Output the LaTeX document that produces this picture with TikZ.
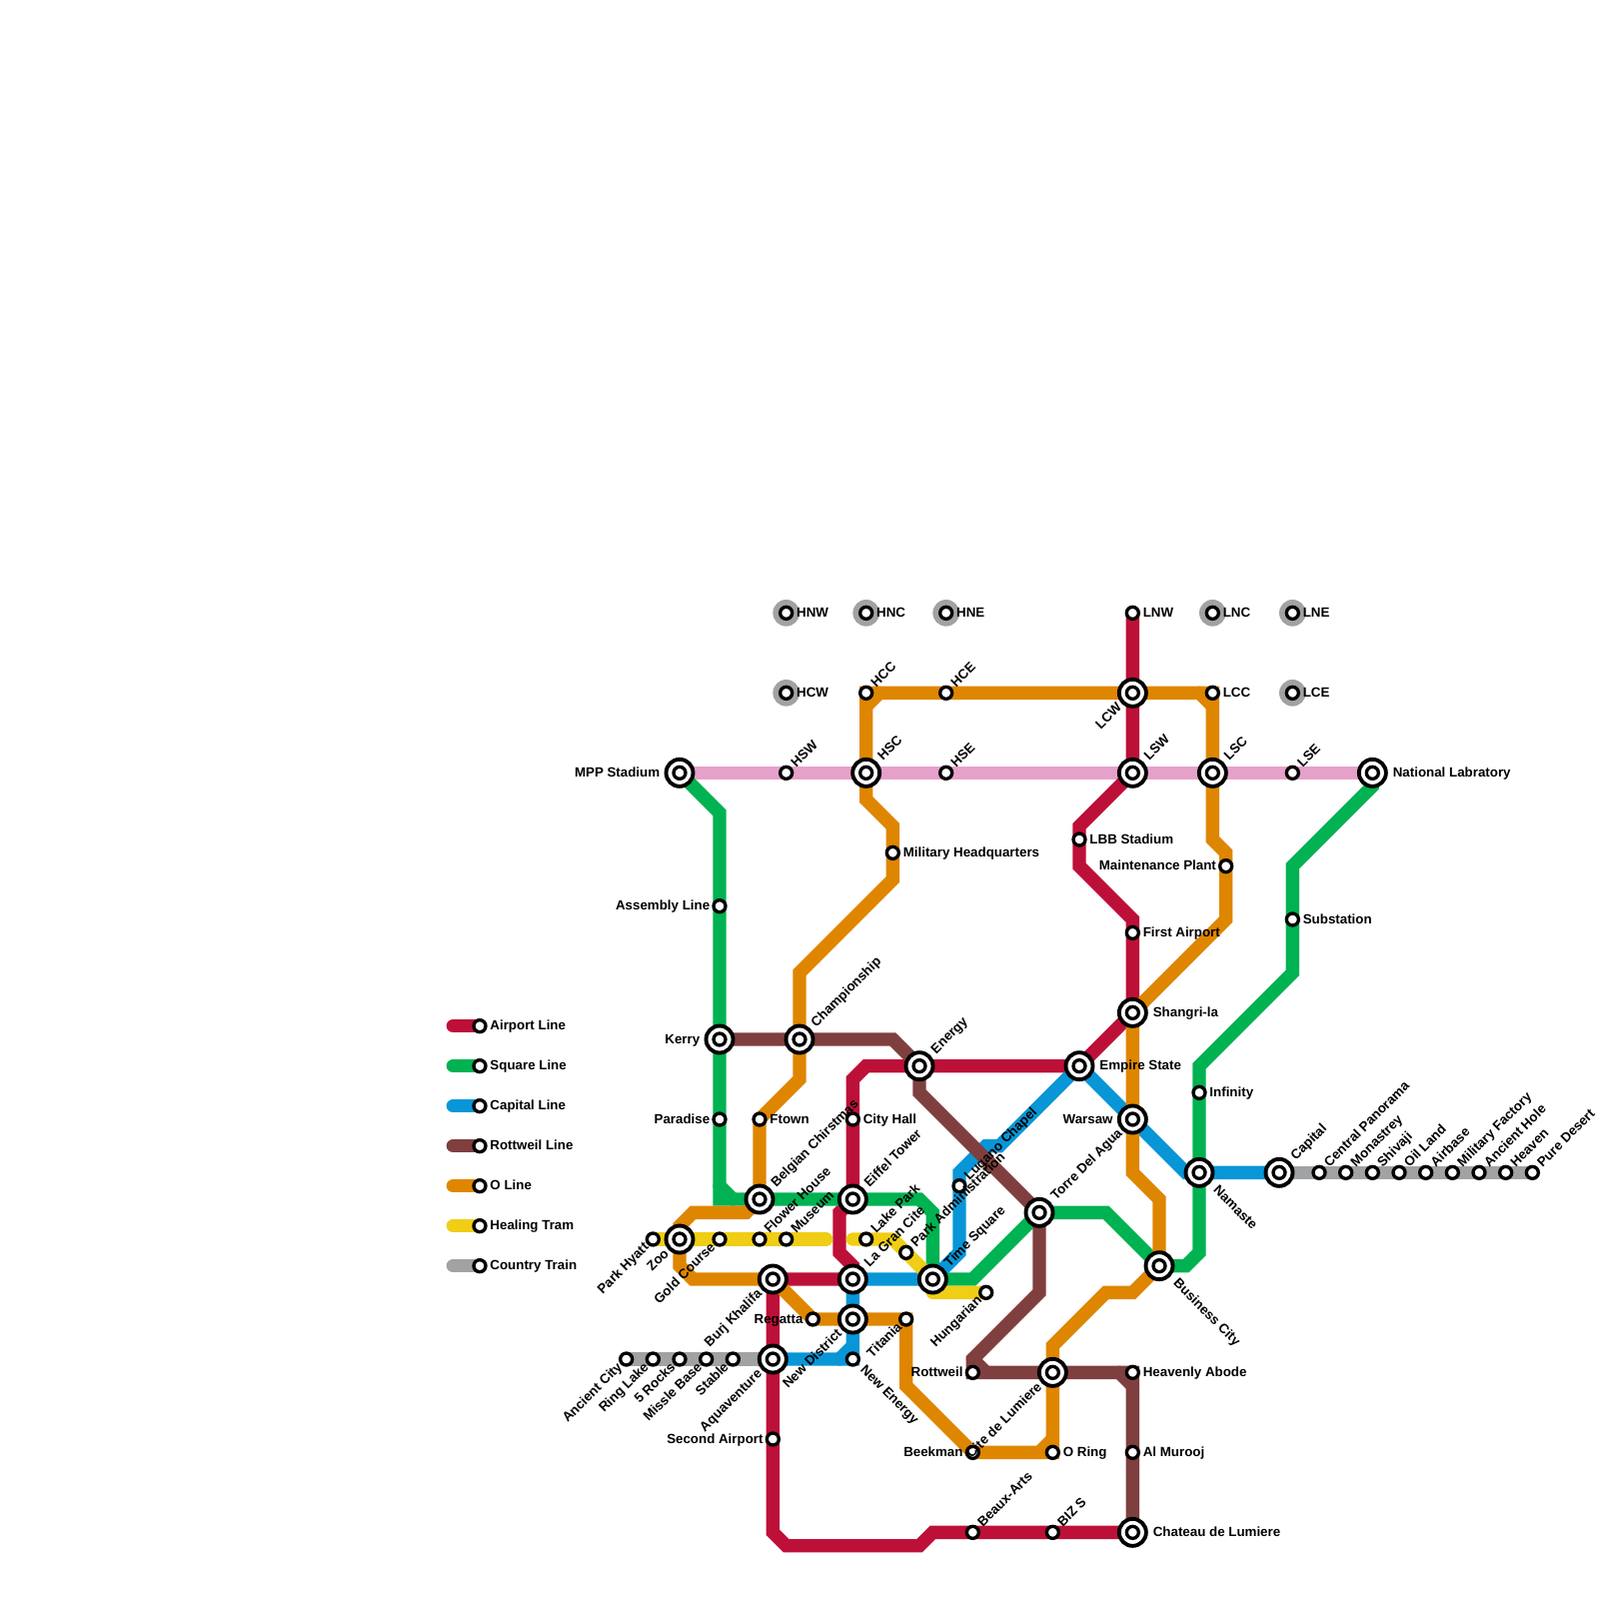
\documentclass[tikz,border=0pt]{standalone}
\usepackage{fontspec}
\setmainfont{Liberation Sans}
\usepackage{xcolor}
\usepackage{tikz}
\usetikzlibrary{backgrounds}
\tikzset{
  metroline/.style={line width=2mm, line cap=round, line join=miter},
  stop/.style={circle, draw=black, fill=white, line width=0.5mm, outer sep=0pt, minimum size=1.8mm, inner sep=0pt},
  hub/.style={circle, draw=black, fill=white, line width=0.58mm, outer sep=0pt, minimum size=4.05mm, inner sep=0pt,
    path picture={\draw[line width=0.5mm, fill=white] (path picture bounding box.center) circle (0.9mm);}},
  tag/.style={font=\fontsize{5.69}{6.5}\selectfont\bfseries, inner sep=0pt, text=black},
  tage/.style={tag, anchor=base west, xshift=1.5mm, yshift=-0.6mm},
  tagw/.style={tag, anchor=base east, xshift=-1.4mm, yshift=-0.6mm},
  hube/.style={tag, anchor=base west, xshift=3mm, yshift=-0.6mm},
  hubw/.style={tag, anchor=base east, xshift=-2.9mm, yshift=-0.6mm},
  tagne/.style={tag, anchor=base west, rotate=45, xshift=1.55mm, yshift=-0.55mm},
  tagsw/.style={tag, anchor=base east, rotate=45, xshift=-1.25mm, yshift=-0.55mm},
  tagse/.style={tag, anchor=base west, rotate=-45, xshift=1.9mm, yshift=-0.5mm},
  hubne/.style={tag, anchor=base west, rotate=45, xshift=2.95mm, yshift=-0.55mm},
  hubsw/.style={tag, anchor=base east, rotate=45, xshift=-2.65mm, yshift=-0.55mm},
  hubse/.style={tag, anchor=base west, rotate=-45, xshift=3.3mm, yshift=-0.5mm}
}
\definecolor{MetroRed}{HTML}{BD1038}
\definecolor{MetroGreen}{HTML}{00B251}
\definecolor{MetroBlue}{HTML}{0896D7}
\definecolor{MetroBrown}{HTML}{7F3F3F}
\definecolor{MetroOrange}{HTML}{DF8600}
\definecolor{MetroYellow}{HTML}{F0CE15}
\definecolor{MetroGray}{HTML}{A1A2A3}
\definecolor{MetroPink}{HTML}{E6A1CB}

\begin{document}
\begin{tikzpicture}[x=2mm, y=-2mm]
\useasboundingbox (0,0) rectangle (120,120);

% legend
\node[stop] at (36,77) (legred) {};
\node[stop] at (36,80) (leggreen) {};
\node[stop] at (36,83) (legblue) {};
\node[stop] at (36,86) (legbrown) {};
\node[stop] at (36,89) (legorange) {};
\node[stop] at (36,92) (legyellow) {};
\node[stop] at (36,95) (leggray) {};
\coordinate (legredend) at (34,77);
\coordinate (leggreenend) at (34,80);
\coordinate (legblueend) at (34,83);
\coordinate (legbrownend) at (34,86);
\coordinate (legorangeend) at (34,89);
\coordinate (legyellowend) at (34,92);
\coordinate (leggrayend) at (34,95);

% stations
\node[stop] at (59,46) (hnw) {};
\node[stop] at (65,46) (hnc) {};
\node[stop] at (71,46) (hne) {};
\node[stop] at (85,46) (lnw) {};
\node[stop] at (91,46) (lnc) {};
\node[stop] at (97,46) (lne) {};
\node[stop] at (59,52) (hcw) {};
\node[stop] at (65,52) (hcc) {};
\node[stop] at (71,52) (hce) {};
\node[hub] at (85,52) (lcw) {};
\node[stop] at (91,52) (lcc) {};
\node[stop] at (97,52) (lce) {};
\node[hub] at (51,58) (mpp) {};
\node[stop] at (59,58) (hsw) {};
\node[hub] at (65,58) (hsc) {};
\node[stop] at (71,58) (hse) {};
\node[hub] at (85,58) (lsw) {};
\node[hub] at (91,58) (lsc) {};
\node[stop] at (97,58) (lse) {};
\node[hub] at (103,58) (national) {};

\node[stop] at (67,64) (military) {};
\node[stop] at (81,63) (lbb) {};
\node[stop] at (92,65) (maintenance) {};
\node[stop] at (54,68) (assembly) {};
\node[stop] at (97,69) (substation) {};
\node[stop] at (85,70) (firstairport) {};
\node[hub] at (85,76) (shangrila) {};
\node[hub] at (54,78) (kerry) {};
\node[hub] at (60,78) (championship) {};
\node[hub] at (69,80) (energy) {};
\node[hub] at (81,80) (empire) {};
\node[stop] at (90,82) (infinity) {};
\node[stop] at (54,84) (paradise) {};
\node[stop] at (57,84) (ftown) {};
\node[stop] at (64,84) (cityhall) {};
\node[hub] at (85,84) (warsaw) {};

\node[hub] at (90,88) (namaste) {};
\node[hub] at (96,88) (capital) {};
\node[stop] at (99,88) (panorama) {};
\node[stop] at (101,88) (monastrey) {};
\node[stop] at (103,88) (shivaji) {};
\node[stop] at (105,88) (oilland) {};
\node[stop] at (107,88) (airbase) {};
\node[stop] at (109,88) (factory) {};
\node[stop] at (111,88) (ancienthole) {};
\node[stop] at (113,88) (heaven) {};
\node[stop] at (115,88) (puredesert) {};

\node[stop] at (72,89) (lugano) {};
\node[hub] at (57,90) (belgian) {};
\node[hub] at (64,90) (eiffel) {};
\node[hub] at (78,91) (torre) {};
\node[stop] at (49,93) (parkhyatt) {};
\node[hub] at (51,93) (zoo) {};
\node[stop] at (54,93) (goldcourse) {};
\node[stop] at (57,93) (flowerhouse) {};
\node[stop] at (59,93) (museum) {};
\node[stop] at (65,93) (lakepark) {};
\node[stop] at (68,94) (parkadmin) {};
\node[hub] at (87,95) (business) {};
\node[hub] at (58,96) (burj) {};
\node[hub] at (64,96) (lagran) {};
\node[hub] at (70,96) (timesquare) {};
\node[stop] at (74,97) (hungarian) {};
\node[stop] at (61,99) (regatta) {};
\node[hub] at (64,99) (newdistrict) {};
\node[stop] at (68,99) (titania) {};

\node[stop] at (47,102) (ancientcity) {};
\node[stop] at (49,102) (ringlake) {};
\node[stop] at (51,102) (fiverocks) {};
\node[stop] at (53,102) (missle) {};
\node[stop] at (55,102) (stable) {};
\node[hub] at (58,102) (aquaventure) {};
\node[stop] at (64,102) (newenergy) {};
\node[stop] at (73,103) (rottweil) {};
\node[hub] at (79,103) (cite) {};
\node[stop] at (85,103) (heavenly) {};
\node[stop] at (58,108) (secondairport) {};
\node[stop] at (73,109) (beekman) {};
\node[stop] at (79,109) (oring) {};
\node[stop] at (85,109) (almurooj) {};
\node[stop] at (73,115) (beauxarts) {};
\node[stop] at (79,115) (bizs) {};
\node[hub] at (85,115) (chateau) {};

% lines
\begin{scope}[on background layer]
\fill[MetroGray] (hnw) circle (2mm) (hnc) circle (2mm) (hne) circle (2mm) (lnc) circle (2mm) (lne) circle (2mm) (hcw) circle (2mm) (lce) circle (2mm);

\draw[metroline, MetroRed] (legredend) -- (legred.center);
\draw[metroline, MetroGreen] (leggreenend) -- (leggreen.center);
\draw[metroline, MetroBlue] (legblueend) -- (legblue.center);
\draw[metroline, MetroBrown] (legbrownend) -- (legbrown.center);
\draw[metroline, MetroOrange] (legorangeend) -- (legorange.center);
\draw[metroline, MetroYellow] (legyellowend) -- (legyellow.center);
\draw[metroline, MetroGray] (leggrayend) -- (leggray.center);

\draw[metroline, MetroPink] (mpp.center) -- (national.center);

\draw[metroline, MetroRed] (lnw.center) -- (lsw.center) -- (81,62) -- (81,65) -- (85,69) -- (shangrila.center)
  -- (empire.center) -- (65,80) -- (64,81) -- (eiffel.center) -- (63,91) -- (63,94) -- (64,95) -- (lagran.center)
  -- (burj.center) -- (58,115) -- (59,116) -- (69,116) -- (70,115) -- (chateau.center);

\draw[metroline, MetroGreen] (mpp.center) -- (54,61) -- (54,90) -- (69,90) -- (70,91) -- (timesquare.center)
  -- (73,96) -- (torre.center) -- (83,91) -- (business.center) -- (89,95) -- (90,94) -- (90,80) -- (97,73)
  -- (97,65) -- (103,59) -- (national.center);
\draw[metroline, MetroGreen] (54,89) -- (55,90);

\draw[metroline, MetroBlue] (capital.center) -- (89,88) -- (empire.center) -- (75,86) -- (74,86) -- (72,88)
  -- (72,94) -- (timesquare.center) -- (lagran.center) -- (newenergy.center) -- (aquaventure.center);
\draw[metroline, MetroBlue] (64,101) -- (63,102);

\draw[metroline, MetroBrown] (kerry.center) -- (67,78) -- (energy.center) -- (69,82) -- (torre.center) -- (78,97)
  -- (73,102) -- (rottweil.center) -- (heavenly.center) -- (chateau.center);
\draw[metroline, MetroBrown] (73,102) -- (74,103) (84,103) -- (85,104);

\draw[metroline, MetroOrange] (hsc.center) -- (hcc.center) -- (lcc.center) -- (91,63) -- (92,64) -- (92,69)
  -- (shangrila.center) -- (85,88) -- (87,90) -- (business.center) -- (85,97) -- (83,97) -- (79,101)
  -- (oring.center) -- (beekman.center) -- (68,104) -- (titania.center) -- (regatta.center) -- (burj.center)
  -- (52,96) -- (51,95) -- (51,92) -- (52,91) -- (56,91) -- (belgian.center) -- (ftown.center) -- (60,81)
  -- (60,73) -- (67,66) -- (67,62) -- (65,60) -- (hsc.center);
\draw[metroline, MetroOrange] (65,53) -- (66,52) (90,52) -- (91,53) (78,109) -- (79,108);

\draw[metroline, MetroYellow] (parkhyatt.center) -- (62,93);
\draw[metroline, MetroYellow, line join=round] (64,93) -- (67,93) -- (timesquare.center) -- (70,97) -- (hungarian.center);

\draw[metroline, MetroGray] (ancientcity.center) -- (aquaventure.center);
\draw[metroline, MetroGray] (capital.center) -- (puredesert.center);
\end{scope}

% labels
\node[tage] at (legred) (legredtag) {Airport Line};
\node[tage] at (leggreen) (leggreentag) {Square Line};
\node[tage] at (legblue) (legbluetag) {Capital Line};
\node[tage] at (legbrown) (legbrowntag) {Rottweil Line};
\node[tage] at (legorange) (legorangetag) {O Line};
\node[tage] at (legyellow) (legyellowtag) {Healing Tram};
\node[tage] at (leggray) (leggraytag) {Country Train};

\node[tage] at (hnw) (hnwtag) {HNW};
\node[tage] at (hnc) (hnctag) {HNC};
\node[tage] at (hne) (hnetag) {HNE};
\node[tage] at (lnw) (lnwtag) {LNW};
\node[tage] at (lnc) (lnctag) {LNC};
\node[tage] at (lne) (lnetag) {LNE};
\node[tage] at (hcw) (hcwtag) {HCW};
\node[tage] at (lcc) (lcctag) {LCC};
\node[tage] at (lce) (lcetag) {LCE};
\node[tage] at (military) (militarytag) {Military Headquarters};
\node[tage] at (lbb) (lbbtag) {LBB Stadium};
\node[tage] at (firstairport) (firstairporttag) {First Airport};
\node[tage] at (cityhall) (cityhalltag) {City Hall};
\node[tage] at (ftown) (ftowntag) {Ftown};
\node[tage] at (infinity) (infinitytag) {Infinity};
\node[tage] at (substation) (substationtag) {Substation};
\node[tage] at (heavenly) (heavenlytag) {Heavenly Abode};
\node[tage] at (almurooj) (almuroojtag) {Al Murooj};
\node[tage] at (oring) (oringtag) {O Ring};
\node[hube] at (national) (nationaltag) {National Labratory};
\node[hube] at (empire) (empiretag) {Empire State};
\node[hube] at (shangrila) (shangrilatag) {Shangri-la};
\node[hube] at (chateau) (chateautag) {Chateau de Lumiere};

\node[tagw] at (assembly) (assemblytag) {Assembly Line};
\node[tagw] at (paradise) (paradisetag) {Paradise};
\node[tagw] at (maintenance) (maintenancetag) {Maintenance Plant};
\node[tagw] at (secondairport) (secondairporttag) {Second Airport};
\node[tagw] at (regatta) (regattatag) {Regatta};
\node[tagw] at (rottweil) (rottweiltag) {Rottweil};
\node[tagw] at (beekman) (beekmantag) {Beekman};
\node[hubw] at (mpp) (mpptag) {MPP Stadium};
\node[hubw] at (kerry) (kerrytag) {Kerry};
\node[hubw] at (warsaw) (warsawtag) {Warsaw};

\node[tagne] at (hsw) (hswtag) {HSW};
\node[tagne] at (hcc) (hcctag) {HCC};
\node[tagne] at (hce) (hcetag) {HCE};
\node[tagne] at (hse) (hsetag) {HSE};
\node[tagne] at (lse) (lsetag) {LSE};
\node[tagne] at (flowerhouse) (flowerhousetag) {Flower House};
\node[tagne] at (museum) (museumtag) {Museum};
\node[tagne] at (lakepark) (lakeparktag) {Lake Park};
\node[tagne] at (parkadmin) (parkadmintag) {Park Administration};
\node[tagne] at (lugano) (luganotag) {Lugano Chapel};
\node[tagne] at (beauxarts) (beauxartstag) {Beaux-Arts};
\node[tagne] at (bizs) (bizstag) {BIZ S};
\node[tagne] at (panorama) (panoramatag) {Central Panorama};
\node[tagne] at (monastrey) (monastreytag) {Monastrey};
\node[tagne] at (shivaji) (shivajitag) {Shivaji};
\node[tagne] at (oilland) (oillandtag) {Oil Land};
\node[tagne] at (airbase) (airbasetag) {Airbase};
\node[tagne] at (factory) (factorytag) {Military Factory};
\node[tagne] at (ancienthole) (ancientholetag) {Ancient Hole};
\node[tagne] at (heaven) (heaventag) {Heaven};
\node[tagne] at (puredesert) (puredeserttag) {Pure Desert};
\node[hubne] at (hsc) (hsctag) {HSC};
\node[hubne] at (lsw) (lswtag) {LSW};
\node[hubne] at (lsc) (lsctag) {LSC};
\node[hubne] at (championship) (championshiptag) {Championship};
\node[hubne] at (energy) (energytag) {Energy};
\node[hubne] at (belgian) (belgiantag) {Belgian Chirstmas};
\node[hubne] at (eiffel) (eiffeltag) {Eiffel Tower};
\node[hubne] at (lagran) (lagrantag) {La Gran Cite};
\node[hubne] at (timesquare) (timesquaretag) {Time Square};
\node[hubne] at (torre) (torretag) {Torre Del Agua};
\node[hubne] at (capital) (capitaltag) {Capital};

\node[tagsw] at (parkhyatt) (parkhyatttag) {Park Hyatt};
\node[tagsw] at (goldcourse) (goldcoursetag) {Gold Course};
\node[tagsw] at (ancientcity) (ancientcitytag) {Ancient City};
\node[tagsw] at (ringlake) (ringlaketag) {Ring Lake};
\node[tagsw] at (fiverocks) (fiverockstag) {5 Rocks};
\node[tagsw] at (missle) (missletag) {Missle Base};
\node[tagsw] at (stable) (stabletag) {Stable};
\node[tagsw] at (hungarian) (hungariantag) {Hungarian};
\node[tagsw] at (titania) (titaniatag) {Titania};
\node[hubsw] at (zoo) (zootag) {Zoo};
\node[hubsw] at (burj) (burjtag) {Burj Khalifa};
\node[hubsw] at (newdistrict) (newdistricttag) {New District};
\node[hubsw] at (aquaventure) (aquaventuretag) {Aquaventure};
\node[hubsw] at (lcw) (lcwtag) {LCW};
\node[hubsw] at (cite) (citetag) {Cite de Lumiere};

\node[tagse] at (newenergy) (newenergytag) {New Energy};
\node[hubse] at (namaste) (namastetag) {Namaste};
\node[hubse] at (business) (businesstag) {Business City};
\end{tikzpicture}
\end{document}
